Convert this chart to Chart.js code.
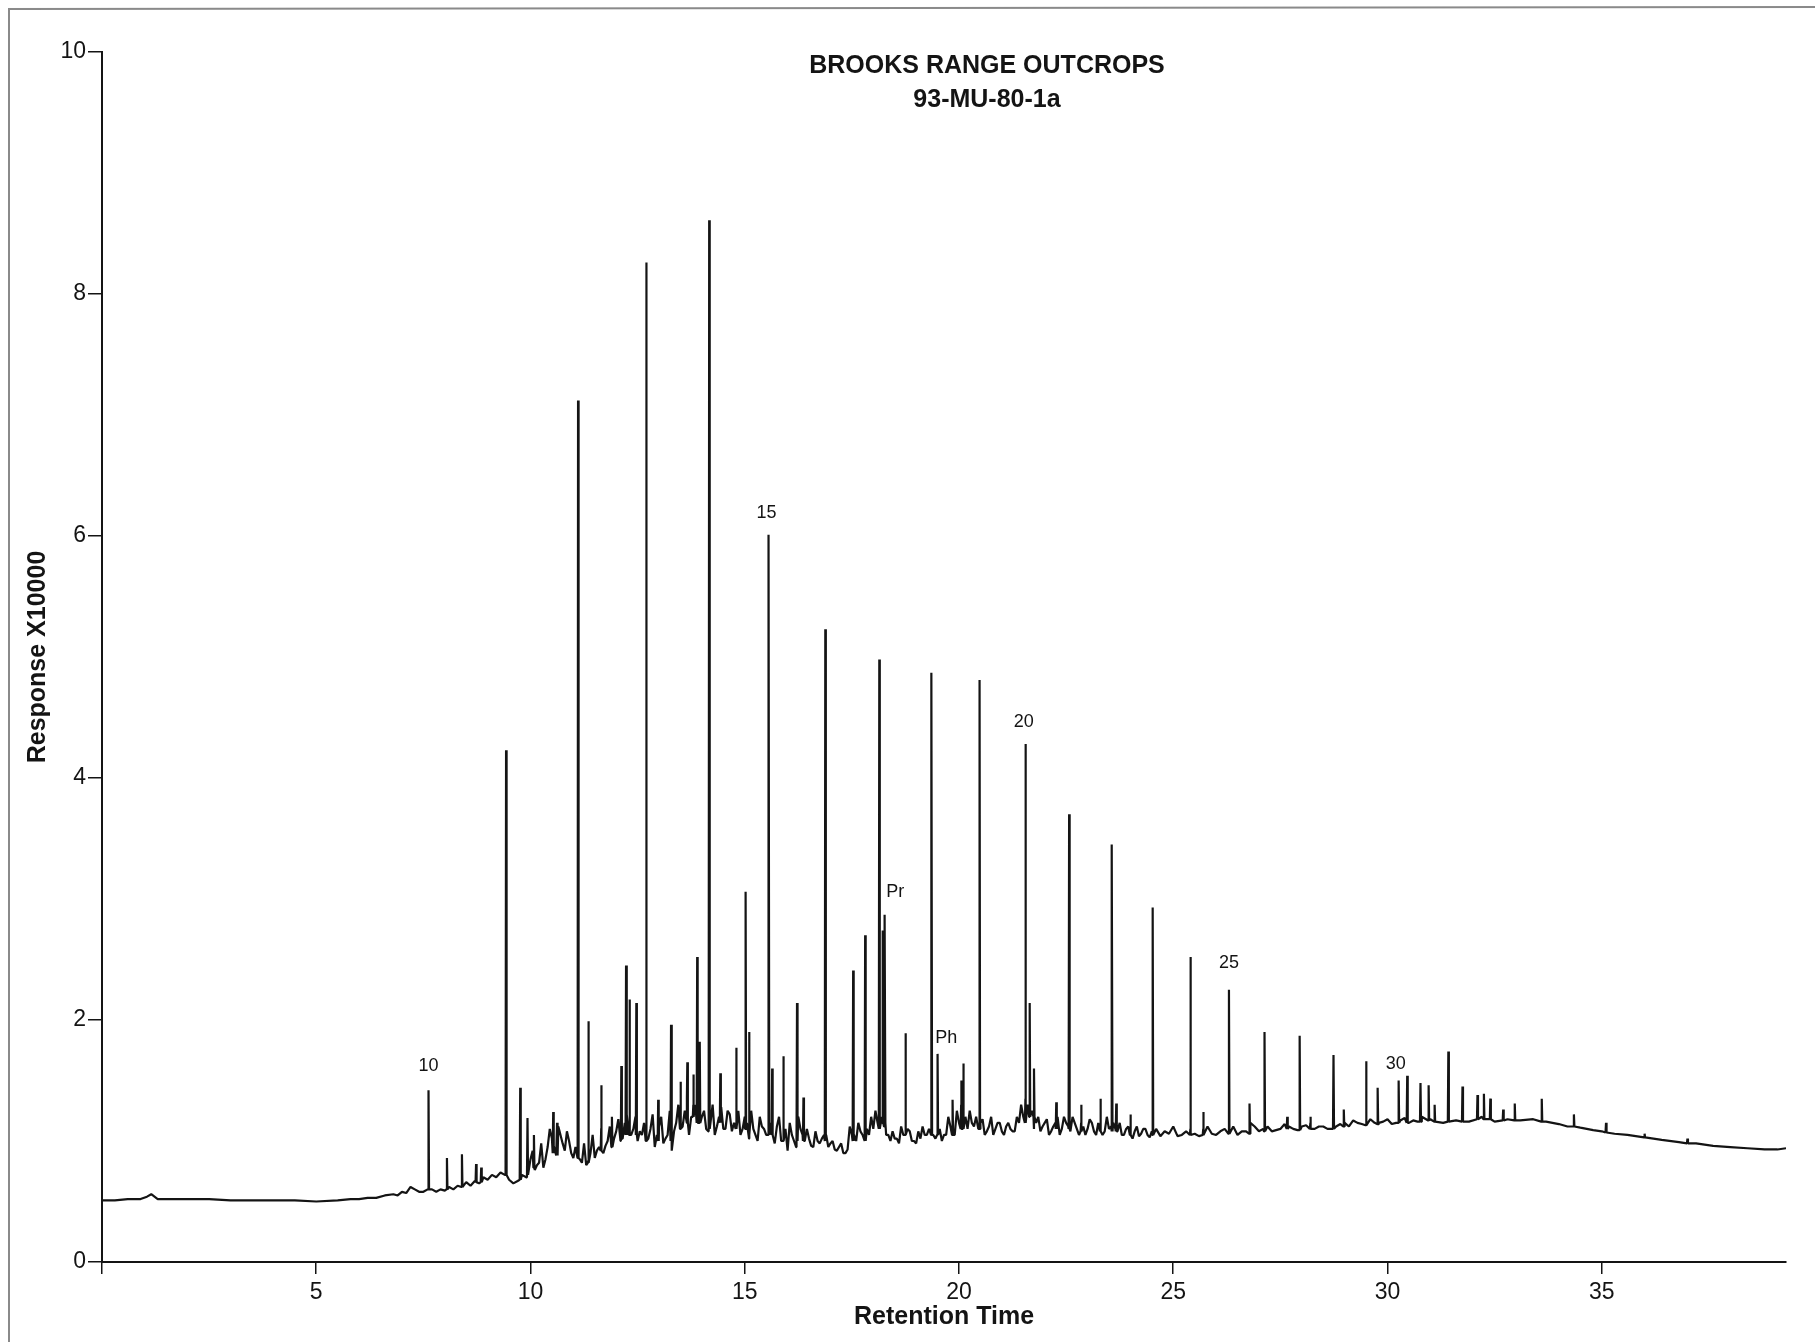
<!DOCTYPE html>
<html>
<head>
<meta charset="utf-8">
<script src="https://cdn.jsdelivr.net/npm/chart.js@4.4.1/dist/chart.umd.min.js"></script>
<style>
  html, body { margin: 0; padding: 0; background: #fff; }
  #wrap { position: relative; width: 1815px; height: 1342px; }
</style>
</head>
<body>
<div id="wrap"><canvas id="gcChart" width="1815" height="1342"></canvas></div>
<script>
// chromatogram trace (retention time, response x10000)
var traceTimes = [
  0, 0.3, 0.6, 0.9, 1.05, 1.15, 1.3, 1.6, 2.0, 2.5, 3.0, 3.5, 4.0, 4.5, 5.0, 5.5, 5.8, 6.0, 6.2, 6.4,
  6.6, 6.8, 6.9, 7.0, 7.1, 7.2, 7.3, 7.4, 7.5, 7.6, 7.7, 7.8, 7.9, 8.0, 8.1, 8.2, 8.3, 8.4, 8.5, 8.6,
  8.7, 8.8, 8.9, 9.0, 9.1, 9.2, 9.3, 9.4, 9.5, 9.6, 9.7, 9.8, 9.9, 10.0, 10.1, 10.2, 10.3, 10.4, 10.5, 10.6,
  10.7, 10.8, 10.9, 11.0, 11.1, 11.2, 11.3, 11.4, 11.5, 11.6, 11.7, 11.8, 11.9, 12.0, 12.1, 12.2, 12.3, 12.4, 12.5, 12.6,
  12.7, 12.8, 12.9, 13.0, 13.1, 13.2, 13.3, 13.4, 13.5, 13.6, 13.7, 13.8, 13.9, 14.0, 14.1, 14.2, 14.3, 14.4, 14.5, 14.6,
  14.7, 14.8, 14.9, 15.0, 15.1, 15.2, 15.3, 15.4, 15.5, 15.6, 15.7, 15.8, 15.9, 16.0, 16.1, 16.2, 16.3, 16.4, 16.5, 16.6,
  16.7, 16.8, 16.9, 17.0, 17.1, 17.2, 17.3, 17.4, 17.5, 17.6, 17.7, 17.8, 17.9, 18.0, 18.1, 18.2, 18.3, 18.4, 18.5, 18.6,
  18.7, 18.8, 18.9, 19.0, 19.1, 19.2, 19.3, 19.4, 19.5, 19.6, 19.7, 19.8, 19.9, 20.0, 20.1, 20.2, 20.3, 20.4, 20.5, 20.6,
  20.7, 20.8, 20.9, 21.0, 21.1, 21.2, 21.3, 21.4, 21.5, 21.6, 21.7, 21.8, 21.9, 22.0, 22.1, 22.2, 22.3, 22.4, 22.5, 22.6,
  22.7, 22.8, 22.9, 23.0, 23.1, 23.2, 23.3, 23.4, 23.5, 23.6, 23.7, 23.8, 23.9, 24.0, 24.1, 24.2, 24.3, 24.4, 24.5, 24.7,
  24.9, 25.1, 25.3, 25.5, 25.7, 25.9, 26.1, 26.3, 26.5, 26.7, 26.9, 27.1, 27.3, 27.5, 27.7, 27.9, 28.1, 28.3, 28.5, 28.7,
  28.9, 29.1, 29.3, 29.5, 29.7, 29.9, 30.1, 30.3, 30.5, 30.7, 30.9, 31.1, 31.3, 31.6, 31.9, 32.2, 32.5, 32.8, 33.1, 33.4,
  33.7, 34.0, 34.2, 34.5, 34.8, 35.0, 35.3, 35.6, 36.0, 36.4, 36.8, 37.2, 37.6, 38.0, 38.4, 38.8, 39.1, 39.3
];
var traceValues = [
  0.51, 0.51, 0.52, 0.52, 0.54, 0.56, 0.52, 0.52, 0.52, 0.52, 0.51, 0.51, 0.51, 0.51, 0.50, 0.51, 0.52, 0.52, 0.53, 0.53,
  0.55, 0.56, 0.55, 0.58, 0.57, 0.62, 0.60, 0.58, 0.58, 0.60, 0.60, 0.58, 0.60, 0.59, 0.62, 0.60, 0.63, 0.62, 0.66, 0.63,
  0.67, 0.65, 0.70, 0.68, 0.72, 0.70, 0.74, 0.72, 0.68, 0.65, 0.67, 0.72, 0.70, 0.85, 0.76, 0.82, 0.78, 0.95, 1.02, 0.88,
  1.05, 0.92, 1.00, 0.86, 0.90, 0.82, 0.80, 0.90, 0.86, 0.95, 0.90, 1.00, 0.95, 1.08, 1.00, 1.15, 1.05, 1.10, 1.00, 1.05,
  1.00, 1.10, 0.95, 1.12, 0.98, 1.05, 0.92, 1.15, 1.10, 1.25, 1.05, 1.30, 1.15, 1.20, 1.10, 1.15, 1.05, 1.20, 1.10, 1.25,
  1.08, 1.15, 1.05, 1.20, 1.02, 1.10, 1.00, 1.12, 1.05, 1.15, 0.98, 1.20, 1.00, 0.92, 1.05, 0.95, 1.10, 1.00, 1.02, 0.95,
  1.00, 1.02, 1.05, 0.98, 0.93, 0.95, 0.90, 0.93, 1.05, 1.00, 1.08, 1.00, 1.05, 1.10, 1.15, 1.20, 1.05, 1.00, 1.02, 0.98,
  1.05, 1.10, 1.00, 0.98, 1.02, 1.05, 1.10, 1.05, 1.08, 1.00, 1.05, 1.12, 1.05, 1.15, 1.25, 1.10, 1.15, 1.20, 1.15, 1.05,
  1.12, 1.05, 1.15, 1.08, 1.12, 1.10, 1.08, 1.15, 1.20, 1.30, 1.25, 1.15, 1.08, 1.15, 1.05, 1.12, 1.20, 1.10, 1.15, 1.08,
  1.15, 1.05, 1.12, 1.10, 1.15, 1.05, 1.12, 1.08, 1.10, 1.15, 1.08, 1.05, 1.10, 1.05, 1.08, 1.04, 1.10, 1.05, 1.08, 1.04,
  1.06, 1.04, 1.08, 1.06, 1.10, 1.06, 1.08, 1.10, 1.05, 1.08, 1.12, 1.10, 1.08, 1.10, 1.12, 1.09, 1.13, 1.10, 1.12, 1.10,
  1.14, 1.12, 1.15, 1.13, 1.15, 1.16, 1.14, 1.17, 1.15, 1.16, 1.18, 1.16, 1.15, 1.17, 1.16, 1.20, 1.16, 1.18, 1.17, 1.18,
  1.16, 1.14, 1.12, 1.11, 1.09, 1.08, 1.06, 1.05, 1.03, 1.01, 0.99, 0.98, 0.96, 0.95, 0.94, 0.93, 0.93, 0.94
];

// extra wiggle samples between the ones above, where the trace is busiest
var rippleTimes = [
  10.05, 10.15, 10.25, 10.35, 10.45, 10.55, 10.65, 10.75, 10.85, 10.95,
  11.05, 11.15, 11.25, 11.35, 11.45, 11.55, 11.65, 11.75, 11.85, 11.95,
  12.05, 12.15, 12.25, 12.35, 12.45, 12.55, 12.65, 12.75, 12.85, 12.95,
  13.05, 13.15, 13.25, 13.35, 13.45, 13.55, 13.65, 13.75, 13.85, 13.95,
  14.05, 14.15, 14.25, 14.35, 14.45, 14.55, 14.65, 14.75, 14.85, 14.95,
  15.05, 15.15, 15.25, 15.35, 15.45, 15.55, 15.65, 15.75, 15.85, 15.95,
  16.05, 16.15, 16.25, 16.35, 16.45, 16.55, 16.65, 16.75, 16.85, 16.95,
  17.05, 17.15, 17.25, 17.35, 17.45, 17.55, 17.65, 17.75, 17.85, 17.95,
  18.05, 18.15, 18.25, 18.35, 18.45, 18.55, 18.65, 18.75, 18.85, 18.95,
  19.05, 19.15, 19.25, 19.35, 19.45, 19.55, 19.65, 19.75, 19.85, 19.95,
  20.05, 20.15, 20.25, 20.35, 20.45, 20.55, 20.65, 20.75, 20.85, 20.95,
  21.05, 21.15, 21.25, 21.35, 21.45, 21.55, 21.65, 21.75, 21.85, 21.95,
  22.05, 22.15, 22.25, 22.35, 22.45, 22.55, 22.65, 22.75, 22.85, 22.95,
  23.05, 23.15, 23.25, 23.35, 23.45, 23.55, 23.65, 23.75, 23.85, 23.95,
  24.05, 24.15, 24.25, 24.35, 24.45,
  24.6, 24.8, 25.0, 25.2, 25.4, 25.6, 25.8, 26.0, 26.2, 26.4, 26.6, 26.8, 27.0, 27.2, 27.4, 27.6, 27.8,
  28.0, 28.2, 28.4, 28.6, 28.8, 29.0, 29.2, 29.4, 29.6, 29.8, 30.0, 30.2, 30.4, 30.6, 30.8, 31.0
];
var rippleValues = [
  0.92, 0.80, 0.98, 0.85, 1.10, 0.95, 1.12, 0.98, 1.08, 0.90,
  0.95, 0.85, 0.98, 0.84, 1.05, 0.92, 1.10, 0.96, 1.12, 1.02,
  1.18, 1.02, 1.22, 1.05, 1.20, 1.08, 1.15, 1.02, 1.22, 1.05,
  1.20, 1.02, 1.25, 1.08, 1.30, 1.12, 1.35, 1.20, 1.30, 1.18,
  1.25, 1.08, 1.30, 1.12, 1.28, 1.10, 1.22, 1.15, 1.25, 1.10,
  1.15, 1.25, 1.05, 1.20, 1.10, 1.25, 1.05, 1.12, 1.00, 1.10,
  1.15, 1.00, 1.20, 1.05, 1.10, 0.96, 1.08, 0.98, 1.05, 0.95,
  1.00, 0.92, 0.98, 0.90, 1.12, 1.05, 1.15, 1.05, 1.10, 1.20,
  1.25, 1.30, 1.12, 1.05, 1.08, 1.02, 1.12, 1.05, 1.08, 1.00,
  1.08, 1.12, 1.05, 1.15, 1.02, 1.10, 1.05, 1.20, 1.15, 1.25,
  1.30, 1.20, 1.25, 1.12, 1.10, 1.18, 1.08, 1.20, 1.10, 1.15,
  1.05, 1.15, 1.08, 1.20, 1.30, 1.35, 1.20, 1.10, 1.20, 1.12,
  1.18, 1.08, 1.15, 1.05, 1.20, 1.12, 1.20, 1.10, 1.15, 1.05,
  1.18, 1.08, 1.15, 1.05, 1.20, 1.12, 1.10, 1.15, 1.05, 1.12,
  1.02, 1.12, 1.06, 1.10, 1.03,
  1.10, 1.08, 1.12, 1.05, 1.10, 1.04, 1.12, 1.05, 1.10, 1.12, 1.08, 1.15, 1.08, 1.12, 1.09, 1.14, 1.10,
  1.12, 1.15, 1.12, 1.10, 1.12, 1.15, 1.17, 1.14, 1.18, 1.15, 1.18, 1.15, 1.19, 1.17, 1.20, 1.18
];

// individual peaks: retention time, foot level, apex
var peakTimes = [
  7.62, 8.05, 8.40, 8.73, 8.85, 9.43, 9.76, 9.93, 10.08, 10.53, 10.62, 11.11, 11.35, 11.65, 11.90, 12.12, 12.23, 12.31, 12.47, 12.70,
  12.98, 13.28, 13.50, 13.66, 13.80, 13.89, 13.95, 14.17, 14.43, 14.80, 15.02, 15.10, 15.56, 15.64, 15.90, 16.22, 16.37, 16.88, 17.53, 17.81,
  18.14, 18.22, 18.27, 18.75, 19.36, 19.50, 19.85, 20.05, 20.10, 20.48, 21.55, 21.65, 21.75, 22.27, 22.57, 22.85, 23.30, 23.57, 23.67, 24.00,
  24.52, 25.40, 25.70, 26.30, 26.78, 27.13, 27.66, 27.95, 28.20, 28.74, 28.98, 29.50, 29.77, 30.26, 30.46, 30.77, 30.96, 31.10, 31.42, 31.75,
  32.10, 32.25, 32.40, 32.70, 32.97, 33.60, 34.35, 35.10, 36.00, 37.00
];
var peakFeet = [
  0.60, 0.60, 0.62, 0.66, 0.66, 0.72, 0.68, 0.72, 0.78, 0.90, 0.88, 0.86, 0.82, 0.92, 0.95, 1.02, 1.05, 1.05, 1.05, 1.00,
  1.00, 1.00, 1.10, 1.15, 1.20, 1.15, 1.15, 1.10, 1.15, 1.10, 1.10, 1.05, 1.05, 1.05, 1.00, 1.00, 1.00, 1.00, 1.00, 1.00,
  1.10, 1.15, 1.15, 1.05, 1.05, 1.05, 1.05, 1.10, 1.10, 1.10, 1.15, 1.20, 1.20, 1.10, 1.10, 1.08, 1.08, 1.08, 1.08, 1.05,
  1.05, 1.05, 1.05, 1.06, 1.06, 1.08, 1.10, 1.09, 1.10, 1.10, 1.12, 1.13, 1.14, 1.15, 1.15, 1.16, 1.17, 1.16, 1.16, 1.16,
  1.18, 1.18, 1.18, 1.17, 1.17, 1.16, 1.12, 1.07, 1.03, 0.98
];
var peakApexes = [
  1.42, 0.86, 0.89, 0.81, 0.78, 4.23, 1.44, 1.19, 1.05, 1.24, 1.15, 7.12, 1.99, 1.46, 1.20, 1.62, 2.45, 2.17, 2.14, 8.26,
  1.34, 1.96, 1.49, 1.65, 1.55, 2.52, 1.82, 8.61, 1.56, 1.77, 3.06, 1.90, 6.01, 1.60, 1.70, 2.14, 1.36, 5.23, 2.41, 2.70,
  4.98, 2.74, 2.87, 1.89, 4.87, 1.72, 1.34, 1.50, 1.64, 4.81, 4.28, 2.14, 1.60, 1.32, 3.70, 1.30, 1.35, 3.45, 1.31, 1.22,
  2.93, 2.52, 1.24, 2.25, 1.31, 1.90, 1.20, 1.87, 1.20, 1.71, 1.26, 1.66, 1.44, 1.50, 1.54, 1.48, 1.46, 1.30, 1.74, 1.45,
  1.38, 1.39, 1.35, 1.26, 1.31, 1.35, 1.22, 1.15, 1.06, 1.02
];

// peak annotations (n-alkane numbers, pristane, phytane)
var labelTexts = ['10', '15', '20', 'Pr', 'Ph', '25', '30'];
var labelTimes = [7.62, 15.51, 21.51, 18.51, 19.70, 26.30, 30.19];
var labelValues = [1.62, 6.19, 4.46, 3.06, 1.85, 2.47, 1.64];

var xTickValues = [0, 5, 10, 15, 20, 25, 30, 35];
var yTickValues = [0, 2, 4, 6, 8, 10];

var titleLines = ['BROOKS RANGE OUTCROPS', '93-MU-80-1a'];
var xTitle = 'Retention Time';
var yTitle = 'Response X10000';

var FONT = '"Liberation Sans", Arial, sans-serif';
var INK = '#141414';

// merge trace, ripples and peaks into one series sorted by time
var buildSeries = function() {
  var pts = [];
  for (var i = 0; i < traceTimes.length; i++) {
    pts.push({x: traceTimes[i], y: traceValues[i]});
  }
  for (var k = 0; k < rippleTimes.length; k++) {
    pts.push({x: rippleTimes[k], y: rippleValues[k]});
  }
  for (var j = 0; j < peakTimes.length; j++) {
    pts.push({x: peakTimes[j] - 0.012, y: peakFeet[j]});
    pts.push({x: peakTimes[j], y: peakApexes[j]});
    pts.push({x: peakTimes[j] + 0.012, y: peakFeet[j]});
  }
  pts.sort(function(a, b) { return a.x - b.x; });
  return pts;
};

var annotationPlugin = {
  id: 'annotations',
  afterDraw: function(chart) {
    var ctx = chart.ctx;
    var xs = chart.scales.x, ys = chart.scales.y;
    ctx.save();
    ctx.fillStyle = INK;
    ctx.textAlign = 'center';
    ctx.textBaseline = 'middle';
    ctx.font = '18px ' + FONT;
    for (var i = 0; i < labelTexts.length; i++) {
      ctx.fillText(labelTexts[i], xs.getPixelForValue(labelTimes[i]), ys.getPixelForValue(labelValues[i]));
    }
    ctx.font = 'bold 25px ' + FONT;
    ctx.fillText(titleLines[0], 987, 66);
    ctx.fillText(titleLines[1], 987, 100);

    // scan frame edges
    ctx.strokeStyle = '#8a8a8a';
    ctx.lineWidth = 2;
    ctx.beginPath();
    ctx.moveTo(9, 1342);
    ctx.lineTo(9, 9);
    ctx.lineTo(1815, 7);
    ctx.stroke();
    ctx.restore();
  }
};

var ctx = document.getElementById('gcChart').getContext('2d');
var chart = new Chart(ctx, {
  type: 'line',
  data: {
    datasets: [{
      label: '93-MU-80-1a',
      data: buildSeries(),
      borderColor: INK,
      borderWidth: 2.2,
      pointRadius: 0,
      tension: 0,
      fill: false,
      borderJoinStyle: 'bevel'
    }]
  },
  options: {
    responsive: false,
    animation: false,
    parsing: false,
    normalized: true,
    layout: {padding: {top: 52, right: 29, left: 0, bottom: 0}},
    plugins: {
      legend: {display: false},
      tooltip: {enabled: false},
      title: {display: false}
    },
    scales: {
      x: {
        type: 'linear',
        min: 0,
        max: 39.3,
        afterFit: function(s) { s.height = 80; },
        afterBuildTicks: function(s) { s.ticks = xTickValues.map(function(v) { return {value: v}; }); },
        border: {display: true, color: INK, width: 2},
        grid: {display: true, drawOnChartArea: false, drawTicks: true, tickLength: 12, color: INK, lineWidth: 1.5},
        ticks: {
          color: INK,
          padding: 5,
          maxRotation: 0,
          font: {family: FONT, size: 23},
          callback: function(v) { return v === 0 ? '' : String(v); }
        },
        title: {display: true, text: xTitle, color: INK, font: {family: FONT, size: 25, weight: 'bold'}, padding: {top: 0, bottom: 10}}
      },
      y: {
        type: 'linear',
        min: 0,
        max: 10,
        afterFit: function(s) { s.width = 102; },
        afterBuildTicks: function(s) { s.ticks = yTickValues.map(function(v) { return {value: v}; }); },
        border: {display: true, color: INK, width: 2},
        grid: {display: true, drawOnChartArea: false, drawTicks: true, tickLength: 14, color: INK, lineWidth: 1.5},
        ticks: {color: INK, padding: 2, font: {family: FONT, size: 23}},
        title: {display: true, text: yTitle, color: INK, font: {family: FONT, size: 25, weight: 'bold'}, padding: {top: 23, bottom: 0}}
      }
    }
  },
  plugins: [annotationPlugin]
});
</script>
</body>
</html>
